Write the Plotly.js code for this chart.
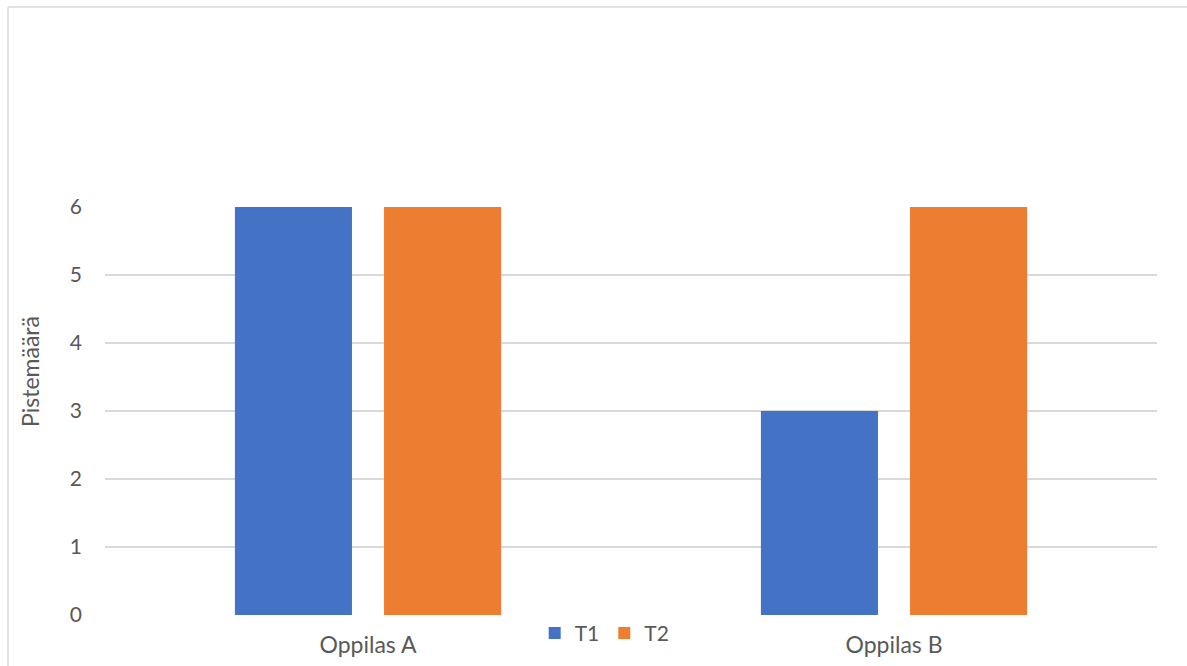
<!DOCTYPE html>
<html>
<head>
<meta charset="utf-8">
<script src="https://cdn.plot.ly/plotly-3.0.1.min.js"></script>
<style>
html,body{margin:0;padding:0;background:#fff;}
#chart{width:1187px;height:666px;}
</style>
</head>
<body>
<div id="chart"></div>
<script>
const categories = ["Oppilas A", "Oppilas B"];
const seriesNames = ["T1", "T2"];
const t1Values = [6, 3];
const t2Values = [6, 6];
const yTicks = [0, 1, 2, 3, 4, 5, 6];
const yTitle = "Pistemäärä";

const fontFam = "Lato, 'Open Sans', sans-serif";
const textColor = "#595959";

const data = [
  {type: "bar", name: seriesNames[0], x: categories, y: t1Values,
   marker: {color: "#4472C4"}, hoverinfo: "x+y+name"},
  {type: "bar", name: seriesNames[1], x: categories, y: t2Values,
   marker: {color: "#ED7D31"}, hoverinfo: "x+y+name"}
];

const layout = {
  width: 1187, height: 666,
  margin: {l: 105, r: 30, t: 207, b: 51},
  paper_bgcolor: "#ffffff",
  plot_bgcolor: "#ffffff",
  font: {family: fontFam, color: textColor, size: 20},
  barmode: "group",
  bargap: 0.433,
  bargroupgap: 0.215,
  showlegend: true,
  legend: {
    orientation: "h", x: 0.475, xanchor: "center", y: -0.045, yanchor: "middle",
    font: {size: 21, color: textColor, family: fontFam},
    itemwidth: 30, traceorder: "normal", bgcolor: "rgba(0,0,0,0)"
  },
  xaxis: {
    type: "category",
    showgrid: false, zeroline: false, showline: false,
    ticks: "", ticklabelstandoff: 14,
    tickfont: {size: 23, color: textColor, family: fontFam}
  },
  yaxis: {
    range: [0, 6],
    tickvals: yTicks,
    ticktext: yTicks.map(String),
    showgrid: true, gridcolor: "#d9d9d9", gridwidth: 1.5,
    zeroline: false, showline: false, ticks: "",
    ticklabelstandoff: 22,
    tickfont: {size: 21, color: textColor, family: fontFam}
  },
  annotations: [
    {text: yTitle, xref: "paper", yref: "paper", x: -0.0713, y: 0.598,
     xanchor: "center", yanchor: "middle", textangle: -90, showarrow: false,
     font: {size: 23, color: textColor, family: fontFam}}
  ],
  shapes: [
    {type: "line", xref: "paper", yref: "paper", x0: -0.0922, x1: 1.2, y0: 1.49, y1: 1.49,
     line: {color: "#d9d9d9", width: 1.5}},
    {type: "line", xref: "paper", yref: "paper", x0: -0.0922, x1: -0.0922, y0: 1.49, y1: -0.2,
     line: {color: "#d9d9d9", width: 1.5}}
  ]
};

Plotly.newPlot("chart", data, layout, {displayModeBar: false, responsive: false});
</script>
</body>
</html>
